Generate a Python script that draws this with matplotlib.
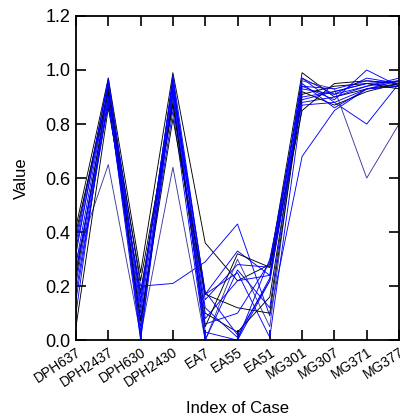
import numpy as np
import matplotlib.pyplot as plt

plt.rcParams['font.family'] = ['Liberation Sans', 'DejaVu Sans']

# categorias del eje x
casos = ['DPH637', 'DPH2437', 'DPH630', 'DPH2430', 'EA7', 'EA55', 'EA51',
         'MG301', 'MG307', 'MG371', 'MG377']

# valores de cada serie
s01 = [0.42, 0.97, 0.25, 0.99, 0.36, 0.22, 0.28, 0.99, 0.90, 0.93, 0.95]
s02 = [0.38, 0.95, 0.20, 0.21, 0.29, 0.43, 0.09, 0.68, 0.85, 0.93, 0.96]
s03 = [0.34, 0.93, 0.15, 0.95, 0.17, 0.33, 0.24, 0.97, 0.88, 0.80, 0.95]
s04 = [0.30, 0.65, 0.02, 0.64, 0.00, 0.30, 0.05, 0.96, 0.93, 0.60, 0.80]
s05 = [0.25, 0.91, 0.10, 0.92, 0.15, 0.28, 0.27, 0.94, 0.89, 1.00, 0.94]
s06 = [0.21, 0.89, 0.05, 0.90, 0.03, 0.00, 0.22, 0.93, 0.91, 0.94, 0.97]
s07 = [0.05, 0.86, 0.18, 0.87, 0.10, 0.03, 0.16, 0.92, 0.87, 0.92, 0.95]
s08 = [0.18, 0.88, 0.08, 0.85, 0.00, 0.00, 0.30, 0.89, 0.92, 0.95, 0.96]
s09 = [0.28, 0.94, 0.12, 0.97, 0.08, 0.22, 0.24, 0.88, 0.90, 0.94, 0.96]
s10 = [0.36, 0.96, 0.03, 0.98, 0.17, 0.25, 0.01, 0.87, 0.88, 0.93, 0.94]
s11 = [0.40, 0.92, 0.22, 0.88, 0.05, 0.32, 0.27, 0.85, 0.95, 0.96, 0.95]
s12 = [0.15, 0.90, 0.00, 0.93, 0.12, 0.01, 0.23, 0.97, 0.91, 0.97, 0.95]
s13 = [0.32, 0.97, 0.14, 0.96, 0.00, 0.26, 0.12, 0.95, 0.86, 0.93, 0.94]
s14 = [0.23, 0.93, 0.07, 0.82, 0.17, 0.12, 0.10, 0.91, 0.94, 0.95, 0.93]
s15 = [0.26, 0.87, 0.17, 0.91, 0.06, 0.10, 0.29, 0.94, 0.93, 0.96, 0.95]
s16 = [0.10, 0.95, 0.01, 0.94, 0.18, 0.02, 0.22, 0.90, 0.92, 0.95, 0.94]

series = [s01, s02, s03, s04, s05, s06, s07, s08,
          s09, s10, s11, s12, s13, s14, s15, s16]
colores = ['black', 'blue', 'blue', '#3a3aa0', 'blue', 'blue', 'black', 'blue',
           'blue', 'blue', 'black', 'blue', 'blue', 'black', 'blue', 'blue']

fig = plt.figure(figsize=(4, 4.2), dpi=100)
ax = fig.add_axes([0.19, 0.19, 0.8075, 0.772])

x = np.arange(len(casos))
for s, c in zip(series, colores):
    ax.plot(x, s, '-', color=c, lw=0.65)

ax.set_xlim(0, len(casos) - 1)
ax.set_ylim(0, 1.2)
ax.set_yticks([0, 0.2, 0.4, 0.6, 0.8, 1.0, 1.2])
ax.set_yticklabels(['0.0', '0.2', '0.4', '0.6', '0.8', '1.0', '1.2'], fontsize=13)
ax.set_xticks(x)
ax.set_xticklabels(casos, rotation=33, ha='right', rotation_mode='anchor', fontsize=10)
ax.tick_params(direction='in', length=7.5, width=1.2, top=True, right=True)
ax.tick_params(axis='y', pad=4)
for sp in ax.spines.values():
    sp.set_linewidth(1.3)

ax.set_xlabel('Index of Case', fontsize=12, labelpad=8)
ax.set_ylabel('Value', fontsize=12, labelpad=12)

plt.savefig('out.png', dpi=100)
